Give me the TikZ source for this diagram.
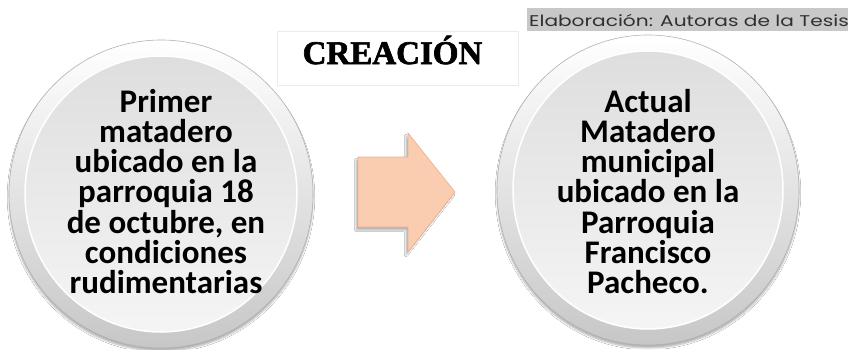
\documentclass[tikz,border=0pt]{standalone}
\usepackage{fontspec}
\newfontfamily\bodyfont{Carlito}
\newfontfamily\titlefont{Liberation Serif}[BoldFeatures={FakeBold=2}]
\newfontfamily\capfont{Poppins}
\usetikzlibrary{shadows.blur}
\definecolor{peach}{HTML}{FBCDB0}
\definecolor{peachedge}{HTML}{E8AE8E}
\definecolor{capgray}{HTML}{C8C8C8}
\definecolor{captext}{HTML}{303030}
\tikzset{
  bodytext/.style={align=center, inner sep=0pt, font=\bodyfont\bfseries\fontsize{33}{30.2}\selectfont, text=black},
  rimfill/.style={top color=white, bottom color=black!22, draw=black!30, line width=0.6pt},
  facefill/.style={top color=black!13, bottom color=black!4, draw=white, line width=1.5pt},
}
\begin{document}
\begin{tikzpicture}[x=1pt,y=1pt]
\useasboundingbox (0,0) rectangle (848,349);
\fill[white] (0,0) rectangle (848,349);

% caption
\node[fill=capgray, minimum width=321pt, minimum height=23pt, inner sep=0pt, anchor=north east] (capbox) at (848,341) {};
\node[font=\capfont\fontsize{15.5}{15.5}\selectfont, text=captext, inner sep=0pt, anchor=base, xscale=1.3] (caption) at (689,323) {Elaboración: Autoras de la Tesis};

% title
\node[draw=black!8, fill=white, minimum width=241pt, minimum height=54pt, inner sep=0pt, anchor=north west] (titlebox) at (277,318) {};
\node[font=\titlefont\bfseries\fontsize{33}{33}\selectfont, inner sep=0pt, anchor=base] (title) at (392.5,285) {CREACIÓN};

% left button
\shade[rimfill, blur shadow={shadow xshift=0pt, shadow yshift=-3pt, shadow blur steps=6, shadow opacity=30}] (161,155) ellipse [x radius=152, y radius=154];
\shade[facefill] (161,155) ellipse [x radius=136, y radius=138];
\node[bodytext] (left) at (166,157.5) {Primer\\matadero\\ubicado en la\\parroquia 18\\de octubre, en\\condiciones\\rudimentarias};

% right button
\shade[rimfill, blur shadow={shadow xshift=0pt, shadow yshift=-3pt, shadow blur steps=6, shadow opacity=30}] (648,159) ellipse [x radius=151, y radius=155];
\shade[facefill] (648,159) ellipse [x radius=135, y radius=139];
\node[bodytext] (right) at (648,157.5) {Actual\\Matadero\\municipal\\ubicado en la\\Parroquia\\Francisco\\Pacheco.};

% arrow
\draw[fill=peach, draw=peachedge, line width=0.6pt, line join=miter,
      blur shadow={shadow xshift=-2pt, shadow yshift=-3pt, shadow blur steps=5, shadow opacity=30}]
  (358,192) -- (408,192) -- (408,216) -- (455,157) -- (408,97) -- (408,122) -- (358,122) -- cycle;
\end{tikzpicture}
\end{document}
